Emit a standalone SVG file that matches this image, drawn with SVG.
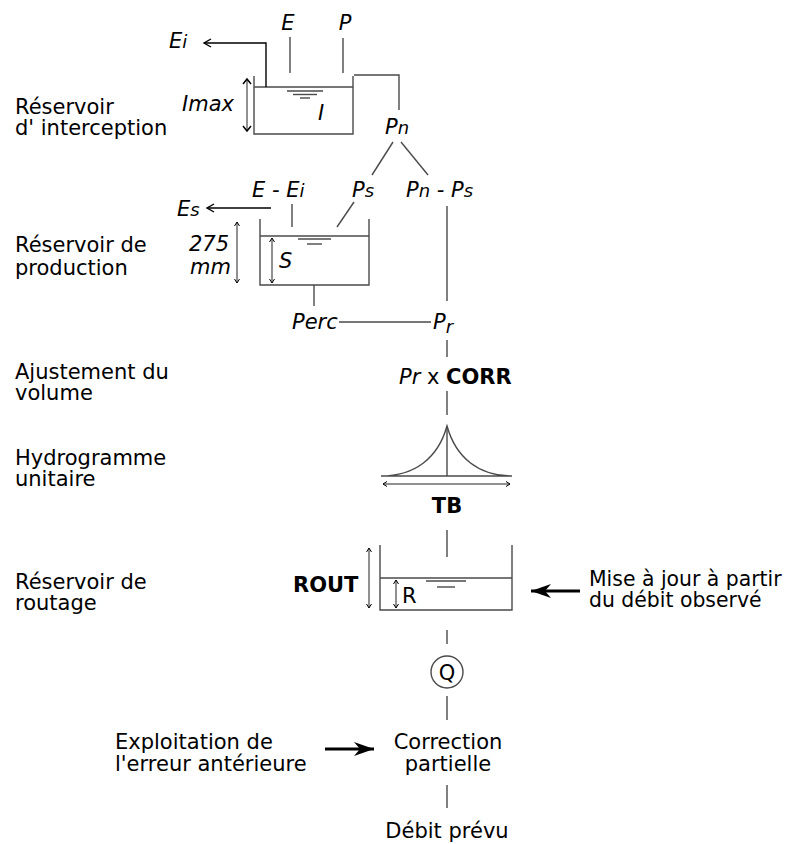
<svg xmlns="http://www.w3.org/2000/svg" width="792" height="844" viewBox="0 0 792 844">
<defs>
<style>
text{font-family:"DejaVu Sans","Liberation Sans",sans-serif;font-size:21px;fill:#000}
.it{font-style:italic}
.b{font-weight:bold}
.mid{text-anchor:middle}
.end{text-anchor:end}
.ln{stroke:#4a4a4a;stroke-width:1.4;fill:none}
.ar{stroke:#000;stroke-width:1.4;fill:none}
.dim{stroke:#222;stroke-width:1;fill:none}
.thick{stroke:#000;stroke-width:3;fill:none}
.sub{font-size:18px}
.r{font-size:20.4px}
</style>
<marker id="open" markerWidth="12" markerHeight="12" refX="8" refY="6" orient="auto" markerUnits="userSpaceOnUse">
<path d="M1,2 L8,6 L1,10" fill="none" stroke="#000" stroke-width="1.4"/>
</marker>
<marker id="dimS" markerWidth="8" markerHeight="8" refX="4" refY="4" orient="auto-start-reverse" markerUnits="userSpaceOnUse">
<path d="M0,1.5 L4,4 L0,6.5" fill="none" stroke="#000" stroke-width="1"/>
</marker>
<marker id="dimL" markerWidth="12" markerHeight="12" refX="6" refY="6" orient="auto-start-reverse" markerUnits="userSpaceOnUse">
<path d="M1,2 L6,6 L1,10" fill="none" stroke="#000" stroke-width="1.5"/>
</marker>
<marker id="fat" markerWidth="24" markerHeight="16" refX="20" refY="8" orient="auto" markerUnits="userSpaceOnUse">
<path d="M0,1 L20,8 L0,15 L6,8 Z" fill="#000"/>
</marker>
</defs>

<g id="labels-left">
<text x="15" y="114">Réservoir</text>
<text x="15" y="135">d' interception</text>
<text x="15" y="252">Réservoir de</text>
<text x="15" y="275">production</text>
<text x="15" y="379">Ajustement du</text>
<text x="15" y="400">volume</text>
<text x="15" y="465">Hydrogramme</text>
<text x="15" y="486">unitaire</text>
<text x="15" y="589">Réservoir de</text>
<text x="15" y="610">routage</text>
</g>

<g id="interception">
<path class="ln" d="M254,76 V134 H353 V76"/>
<line class="ln" x1="254" y1="87" x2="353" y2="87"/>
<line class="ln" x1="287" y1="91" x2="323" y2="91"/>
<line class="ln" x1="293" y1="94.5" x2="317" y2="94.5"/>
<line class="ln" x1="300" y1="98" x2="310" y2="98"/>
<line class="dim" x1="247" y1="79" x2="247" y2="131" marker-start="url(#dimL)" marker-end="url(#dimL)"/>
<text class="it" x="182" y="111">Imax</text>
<text class="it" x="318" y="120">I</text>
<text class="it mid" x="288" y="30">E</text>
<text class="it mid" x="345" y="30">P</text>
<text class="it" x="169" y="48">E<tspan class="sub">i</tspan></text>
<text class="it" x="385" y="134">P<tspan class="sub">n</tspan></text>
</g>

<g id="production">
<path class="ln" d="M260,219 V285 H369 V219"/>
<line class="ln" x1="260" y1="236" x2="369" y2="236"/>
<line class="ln" x1="298" y1="239" x2="331" y2="239"/>
<line class="ln" x1="307" y1="244" x2="322" y2="244"/>
<line class="dim" x1="272" y1="238" x2="272" y2="283" marker-start="url(#dimS)" marker-end="url(#dimS)"/>
<line class="dim" x1="237" y1="222" x2="237" y2="283" marker-start="url(#dimS)" marker-end="url(#dimS)"/>
<text class="it" x="279" y="268">S</text>
<text class="it end" x="229" y="251">275</text>
<text class="it end" x="231" y="274">mm</text>
<text class="it" x="252" y="197">E - E<tspan class="sub">i</tspan></text>
<text class="it" x="352" y="197">P<tspan class="sub">s</tspan></text>
<text class="it" x="406" y="197">P<tspan class="sub">n</tspan> - P<tspan class="sub">s</tspan></text>
<text class="it" x="177" y="216">E<tspan class="sub">s</tspan></text>
<text class="it" x="292" y="329">Perc</text>
<text class="it" x="433" y="329">P<tspan class="sub" dy="4">r</tspan></text>
</g>

<g id="ajustement">
<text x="399" y="384"><tspan class="it">Pr</tspan> x <tspan class="b">CORR</tspan></text>
</g>

<g id="hydrogramme">
<path class="ln" d="M381,476 C415,476 438,458 447,426 C456,458 479,476 512,476 Z"/>
<line class="ln" x1="447" y1="426" x2="447" y2="476"/>
<line class="dim" x1="383" y1="484" x2="510" y2="484" marker-start="url(#dimS)" marker-end="url(#dimS)"/>
<text class="b mid" x="447" y="513">TB</text>
</g>

<g id="routage">
<path class="ln" d="M380,545 V610 H512 V545"/>
<line class="ln" x1="380" y1="578" x2="512" y2="578"/>
<line class="ln" x1="426" y1="581" x2="466" y2="581"/>
<line class="ln" x1="437" y1="587" x2="455" y2="587"/>
<line class="dim" x1="396" y1="580" x2="396" y2="608" marker-start="url(#dimS)" marker-end="url(#dimS)"/>
<line class="dim" x1="369" y1="548" x2="369" y2="608" marker-start="url(#dimS)" marker-end="url(#dimS)"/>
<text class="b" x="293" y="592">ROUT</text>
<text x="402" y="603">R</text>
<text class="r" x="589" y="586">Mise à jour à partir</text>
<text class="r" x="589" y="607">du débit observé</text>
</g>

<g id="debit">
<circle class="ln" cx="447" cy="672" r="16" stroke-width="1"/>
<text class="mid" x="447" y="680">Q</text>
</g>

<g id="correction">
<text class="mid" x="448" y="749">Correction</text>
<text class="mid" x="448" y="771">partielle</text>
<text x="115" y="749">Exploitation de</text>
<text x="115" y="771">l'erreur antérieure</text>
</g>

<g id="prevu">
<text class="mid" x="447" y="838">Débit prévu</text>
</g>

<g id="connectors">
<polyline class="ar" points="266,87 266,43 204,43" marker-end="url(#open)"/>
<line class="ln" x1="290" y1="37" x2="290" y2="73"/>
<line class="ln" x1="343" y1="38" x2="343" y2="73"/>
<polyline class="ln" points="354,75 399,75 399,110"/>
<line class="ln" x1="393" y1="142" x2="372" y2="175"/>
<line class="ln" x1="401" y1="142" x2="428" y2="175"/>
<line class="ar" x1="271" y1="208" x2="207" y2="208" marker-end="url(#open)"/>
<line class="ln" x1="292" y1="204" x2="292" y2="227"/>
<line class="ln" x1="354" y1="202" x2="337" y2="227"/>
<line class="ln" x1="447" y1="206" x2="447" y2="301"/>
<line class="ln" x1="314" y1="285" x2="314" y2="306"/>
<line class="ln" x1="339" y1="322" x2="431" y2="322"/>
<line class="ln" x1="447" y1="340" x2="447" y2="357"/>
<line class="ln" x1="447" y1="391" x2="447" y2="415"/>
<line class="ln" x1="447" y1="530" x2="447" y2="557"/>
<line class="ln" x1="447" y1="630" x2="447" y2="644"/>
<line class="ln" x1="447" y1="696" x2="447" y2="720"/>
<line class="ln" x1="447" y1="785" x2="447" y2="808"/>
<line class="thick" x1="580" y1="591" x2="531" y2="591" marker-end="url(#fat)"/>
<line class="thick" x1="325" y1="749" x2="374" y2="749" marker-end="url(#fat)"/>
</g>
</svg>
